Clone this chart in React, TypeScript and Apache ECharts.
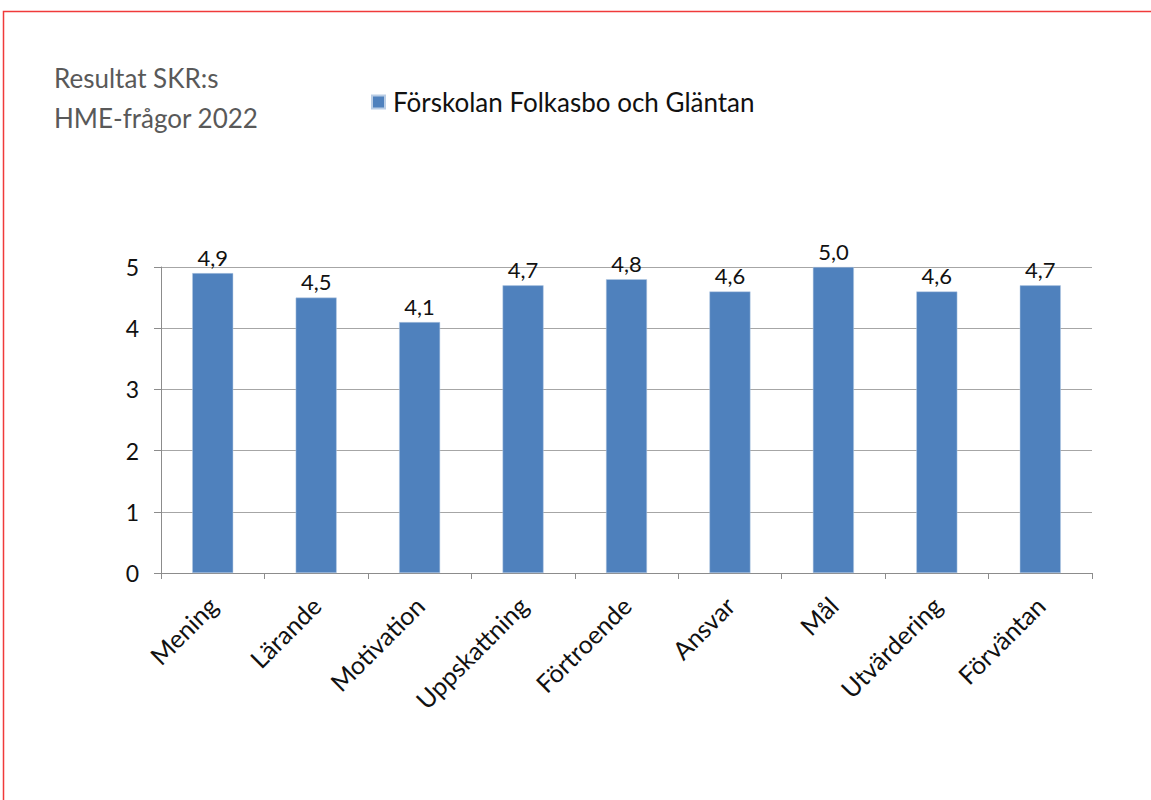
import React, { useEffect, useRef } from "react";
import * as echarts from "echarts";

const categories = ["Mening", "Lärande", "Motivation", "Uppskattning", "Förtroende", "Ansvar", "Mål", "Utvärdering", "Förväntan"];
const values = [4.9, 4.5, 4.1, 4.7, 4.8, 4.6, 5.0, 4.6, 4.7];
const seriesName = "Förskolan Folkasbo och Gläntan";
const titleLines = ["Resultat SKR:s", "HME-frågor 2022"];

const FONT = "Lato, 'Open Sans', sans-serif";

export default function App() {
  const ref = useRef<HTMLDivElement>(null);
  useEffect(() => {
    document.body.style.margin = "0";
    const chart = echarts.init(ref.current!, null, { renderer: "svg" });
    chart.setOption({
      animation: false,
      backgroundColor: "#ffffff",
      textStyle: { fontFamily: FONT },
      title: {
        text: titleLines.join("\n"),
        left: 49,
        top: 53,
        textStyle: { fontFamily: FONT, fontSize: 26, fontWeight: "normal", color: "#595959", lineHeight: 40 },
      },
      legend: {
        data: [seriesName],
        left: 366,
        top: 84,
        icon: "rect",
        itemWidth: 13,
        itemHeight: 13,
        textStyle: { fontFamily: FONT, fontSize: 26, color: "#111111", padding: [0, 0, 0, 3] },
      },
      graphic: [
        {
          type: "rect",
          shape: { x: 3.5, y: 11.5, width: 1300, height: 900 },
          style: { fill: "none", stroke: "#f03a3a", lineWidth: 1.5 },
          silent: true,
        },
      ],
      grid: { left: 161, right: 59, top: 267, bottom: 227 },
      xAxis: {
        type: "category",
        data: categories,
        axisLine: { show: true, lineStyle: { color: "#8c8c8c", width: 1 } },
        axisTick: { show: true, length: 6, alignWithLabel: false, lineStyle: { color: "#8c8c8c" } },
        axisLabel: { rotate: 45, fontSize: 25, color: "#111111", fontFamily: FONT, margin: 28, interval: 0 },
      },
      yAxis: {
        type: "value",
        min: 0,
        max: 5,
        interval: 1,
        axisLine: { show: true, lineStyle: { color: "#8c8c8c", width: 1 } },
        axisTick: { show: true, length: 7, lineStyle: { color: "#8c8c8c" } },
        axisLabel: { fontSize: 23, color: "#111111", fontFamily: FONT, margin: 22 },
        splitLine: { show: true, lineStyle: { color: "#a6a6a6", width: 1 } },
      },
      series: [
        {
          name: seriesName,
          type: "bar",
          data: values,
          barWidth: 41,
          itemStyle: { color: "#4f81bd", borderColor: "#b9cde5", borderWidth: 0.5 },
          label: {
            show: true,
            position: "top",
            distance: 5,
            fontSize: 22,
            color: "#111111",
            fontFamily: FONT,
            formatter: (p: any) => Number(p.value).toFixed(1).replace(".", ","),
          },
        },
      ],
    });
    return () => chart.dispose();
  }, []);
  return <div ref={ref} style={{ width: 1151, height: 800 }} />;
}
